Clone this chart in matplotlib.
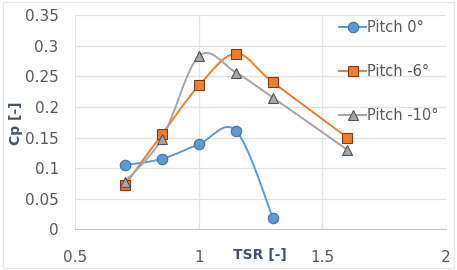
import numpy as np
import matplotlib.pyplot as plt
from matplotlib.path import Path
from matplotlib.patches import PathPatch, Rectangle
from matplotlib.lines import Line2D

# data
tsr_0 = [0.7, 0.85, 1.0, 1.15, 1.3]
cp_0 = [0.105, 0.115, 0.139, 0.161, 0.018]
tsr_6 = [0.7, 0.85, 1.0, 1.15, 1.3, 1.6]
cp_6 = [0.072, 0.155, 0.235, 0.287, 0.240, 0.150]
tsr_10 = [0.7, 0.85, 1.0, 1.15, 1.3, 1.6]
cp_10 = [0.078, 0.148, 0.283, 0.256, 0.215, 0.130]
labels = ['Pitch 0°', 'Pitch -6°', 'Pitch -10°']
xticks = [0.5, 1, 1.5, 2]
yticks = [0, 0.05, 0.1, 0.15, 0.2, 0.25, 0.3, 0.35]


def smooth_path(x, y):
    # excel-like smoothed line: cubic bezier through the points
    p = np.column_stack([x, y])
    n = len(p)
    verts = [p[0]]
    codes = [Path.MOVETO]
    for i in range(n - 1):
        p0 = p[max(i - 1, 0)]
        p1 = p[i]
        p2 = p[i + 1]
        p3 = p[min(i + 2, n - 1)]
        c1 = p1 + (p2 - p0) / 6
        c2 = p2 - (p3 - p1) / 6
        verts += [c1, c2, p2]
        codes += [Path.CURVE4] * 3
    return Path(verts, codes)


fig = plt.figure(figsize=(4.57, 2.7), dpi=100)
ax = fig.add_axes([0.165, 0.1507, 0.811, 0.7933])

series = [
    (tsr_0, cp_0, '#5B9BD5', 'o', '#41719C'),
    (tsr_6, cp_6, '#ED7D31', 's', '#843C0C'),
    (tsr_10, cp_10, '#A5A5A5', '^', '#525252'),
]
handles = []
for x, y, col, mk, ec in series:
    ax.add_patch(PathPatch(smooth_path(x, y), facecolor='none', edgecolor=col,
                           lw=1.4, transform=ax.transData, zorder=2))
    ax.plot(x, y, linestyle='none', marker=mk, ms=7.5, mfc=col, mec=ec,
            mew=0.8, zorder=3)
    handles.append(Line2D([], [], color=col, lw=1.4, marker=mk, ms=7.5,
                          mfc=col, mec=ec, mew=0.8))

ax.set_xlim(0.5, 2)
ax.set_ylim(0, 0.35)
ax.set_xticks(xticks)
ax.set_xticklabels(['0.5', '1', '1.5', '2'])
ax.set_yticks(yticks)
ax.set_yticklabels(['0', '0.05', '0.1', '0.15', '0.2', '0.25', '0.3', '0.35'])
ax.grid(True, color='#E3E3E3', lw=0.9)
ax.set_axisbelow(True)
for s in ['top', 'right', 'left']:
    ax.spines[s].set_visible(False)
ax.spines['bottom'].set_color('#C8C8C8')
ax.tick_params(length=0, labelsize=11, colors='#595959')
ax.tick_params(axis='y', pad=12)
ax.tick_params(axis='x', pad=15)

fig.text(0.035, 0.544, 'Cp [-]', rotation=90, ha='center', va='center',
         fontsize=10, fontweight='bold', color='#44546A')
fig.text(0.569, 0.056, 'TSR [-]', ha='center', va='center',
         fontsize=10, fontweight='bold', color='#44546A')

leg = fig.legend(handles, labels, loc='upper left',
                 bbox_to_anchor=(0.714, 0.975), frameon=False,
                 fontsize=10.5, labelspacing=2.0, handlelength=1.8,
                 handletextpad=0.1, labelcolor='#595959')

fig.patches.append(Rectangle((0.006, 0.008), 0.988, 0.984, fill=False,
                             edgecolor='#E6E6E6', lw=0.8,
                             transform=fig.transFigure))

fig.savefig('out.png', dpi=100, facecolor='white')
